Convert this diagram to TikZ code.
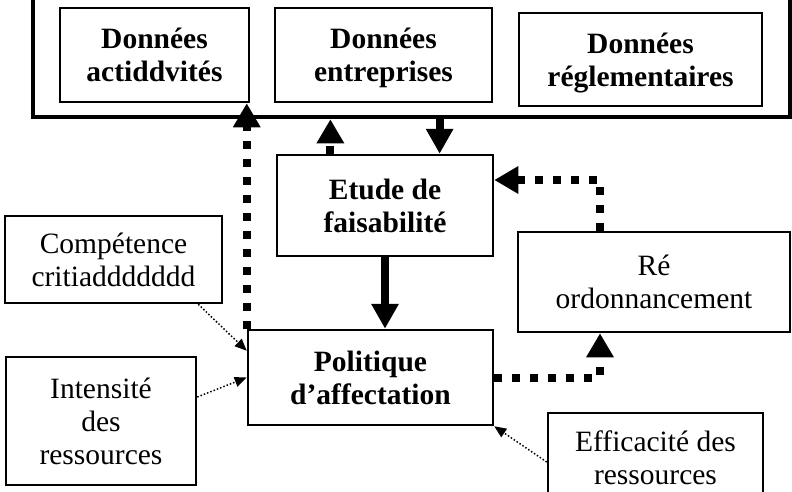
\documentclass[tikz,border=0pt]{standalone}
\usepackage{fontspec}
\setmainfont{Liberation Serif}
\usetikzlibrary{arrows.meta}
\usetikzlibrary{calc}

\tikzset{
  box/.style={draw, line width=2.5pt, align=center, inner sep=0pt, text depth=0pt, font=\fontsize{29.5}{33}\selectfont},
  boldbox/.style={box, font=\bfseries\fontsize{29.5}{33}\selectfont},
  bigdot/.style={line width=8pt, dash pattern=on 8pt off 10pt, -{Triangle[width=26pt,length=24pt]}},
  bigarrow/.style={line width=8pt, -{Triangle[width=26pt,length=25pt]}},
  smalldot/.style={line width=1.5pt, dotted, -{Triangle[width=10pt,length=12pt]}},
}

\begin{document}
\begin{tikzpicture}[x=1pt, y=-1pt]
  \useasboundingbox (0,0) rectangle (792,491);
  \node[draw, line width=4.5pt, inner sep=0pt, minimum width=757, minimum height=122] (donnees) at (411.5,56) {};
  \node[boldbox, minimum width=189, minimum height=94] (acti) at (154.5,55) {Données\\actiddvités};
  \node[boldbox, minimum width=217, minimum height=94] (entr) at (383.5,55) {Données\\entreprises};
  \node[boldbox, minimum width=243, minimum height=93] (regl) at (640.5,59.5) {Données\\réglementaires};
  \node[boldbox, minimum width=216, minimum height=101] (etude) at (385,205.5) {Etude de\\faisabilité};
  \node[box, minimum width=272, minimum height=100] (reord) at (654,282) {Ré\\ordonnancement};
  \node[box, minimum width=217, minimum height=87] (comp) at (113.5,259.5) {Compétence\\critiaddddddd};
  \node[boldbox, minimum width=245, minimum height=95] (politique) at (370.5,377.5) {Politique\\d’affectation};
  \node[box, minimum width=190, minimum height=128] (intens) at (101,421) {Intensité\\des\\ressources};
  \node[box, minimum width=215, minimum height=90] (effic) at (655.5,458) {Efficacité des\\ressources};

  \coordinate (e1) at ($(etude.north west)!.25!(etude.north east)$);
  \coordinate (e2) at ($(etude.north west)!.75!(etude.north east)$);
  \coordinate (turn) at (600,180);

  \draw[bigdot] (politique.north west) -- (politique.north west |- acti.south);
  \draw[bigdot] (e1) -- (e1 |- donnees.south);
  \draw[bigarrow] (e2 |- donnees.south) -- (e2);
  \draw[bigarrow] (etude.south) -- (etude.south |- politique.north);
  \draw[bigdot] (turn |- reord.north) |- (etude.east |- turn);
  \draw[bigdot] (politique.east) -| (turn |- reord.south);

  \draw[smalldot] ([xshift=-25pt]comp.south east) -- ([yshift=-22pt]politique.north west);
  \draw[smalldot] ([yshift=24pt]intens.east) -- (politique.west);
  \draw[smalldot] ([yshift=-4pt]effic.west) -- (politique.south east);
\end{tikzpicture}
\end{document}
